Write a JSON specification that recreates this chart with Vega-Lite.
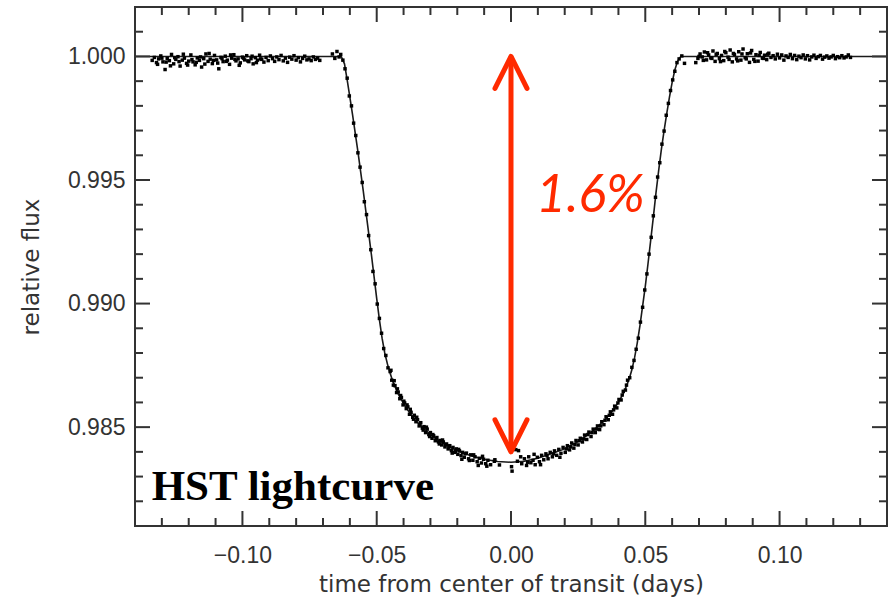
{
  "$schema": "https://vega.github.io/schema/vega-lite/v6.json",
  "width": 752,
  "height": 519,
  "autosize": "none",
  "padding": {"left": 135, "top": 7, "right": 3, "bottom": 74},
  "background": "white",
  "config": {
    "view": {"stroke": "#333333", "strokeWidth": 2},
    "axis": {
      "grid": false,
      "domain": false,
      "ticks": false,
      "labelFont": "Liberation Sans",
      "labelFontSize": 23,
      "labelColor": "#333333",
      "titleFont": "DejaVu Sans",
      "titleFontSize": 23,
      "titleFontWeight": "normal",
      "titleColor": "#333333"
    }
  },
  "datasets": {
    "xticks": [
      {"v": -0.13, "kind": "minor"}, {"v": -0.12, "kind": "minor"}, {"v": -0.11, "kind": "minor"}, {"v": -0.1, "kind": "major"},
      {"v": -0.09, "kind": "minor"}, {"v": -0.08, "kind": "minor"}, {"v": -0.07, "kind": "minor"}, {"v": -0.06, "kind": "minor"},
      {"v": -0.05, "kind": "major"}, {"v": -0.04, "kind": "minor"}, {"v": -0.03, "kind": "minor"}, {"v": -0.02, "kind": "minor"},
      {"v": -0.01, "kind": "minor"}, {"v": 0.0, "kind": "major"}, {"v": 0.01, "kind": "minor"}, {"v": 0.02, "kind": "minor"},
      {"v": 0.03, "kind": "minor"}, {"v": 0.04, "kind": "minor"}, {"v": 0.05, "kind": "major"}, {"v": 0.06, "kind": "minor"},
      {"v": 0.07, "kind": "minor"}, {"v": 0.08, "kind": "minor"}, {"v": 0.09, "kind": "minor"}, {"v": 0.1, "kind": "major"},
      {"v": 0.11, "kind": "minor"}, {"v": 0.12, "kind": "minor"}, {"v": 0.13, "kind": "minor"}
    ],
    "yticks": [
      {"v": 0.982, "kind": "minor"}, {"v": 0.983, "kind": "minor"}, {"v": 0.984, "kind": "minor"}, {"v": 0.985, "kind": "major"},
      {"v": 0.986, "kind": "minor"}, {"v": 0.987, "kind": "minor"}, {"v": 0.988, "kind": "minor"}, {"v": 0.989, "kind": "minor"},
      {"v": 0.99, "kind": "major"}, {"v": 0.991, "kind": "minor"}, {"v": 0.992, "kind": "minor"}, {"v": 0.993, "kind": "minor"},
      {"v": 0.994, "kind": "minor"}, {"v": 0.995, "kind": "major"}, {"v": 0.996, "kind": "minor"}, {"v": 0.997, "kind": "minor"},
      {"v": 0.998, "kind": "minor"}, {"v": 0.999, "kind": "minor"}, {"v": 1.0, "kind": "major"}, {"v": 1.001, "kind": "minor"}
    ],
    "model": [
      {"t": -0.14, "f": 1.0}, {"t": -0.0632, "f": 1.0}, {"t": -0.062, "f": 0.9997}, {"t": -0.061, "f": 0.99905},
      {"t": -0.06, "f": 0.99835}, {"t": -0.059, "f": 0.99765}, {"t": -0.058, "f": 0.9969}, {"t": -0.057, "f": 0.99615},
      {"t": -0.056, "f": 0.99535}, {"t": -0.055, "f": 0.99455}, {"t": -0.054, "f": 0.9937}, {"t": -0.053, "f": 0.99285},
      {"t": -0.052, "f": 0.992}, {"t": -0.051, "f": 0.9911}, {"t": -0.05, "f": 0.9902}, {"t": -0.049, "f": 0.98935},
      {"t": -0.048, "f": 0.9886}, {"t": -0.047, "f": 0.988}, {"t": -0.046, "f": 0.98755}, {"t": -0.045, "f": 0.98718},
      {"t": -0.044, "f": 0.98685}, {"t": -0.042, "f": 0.98635}, {"t": -0.04, "f": 0.98595}, {"t": -0.038, "f": 0.98562},
      {"t": -0.035, "f": 0.9852}, {"t": -0.03, "f": 0.9847}, {"t": -0.025, "f": 0.98432}, {"t": -0.02, "f": 0.98404},
      {"t": -0.015, "f": 0.98384}, {"t": -0.01, "f": 0.9837}, {"t": -0.005, "f": 0.98361}, {"t": 0.0, "f": 0.98358},
      {"t": 0.005, "f": 0.98362}, {"t": 0.01, "f": 0.98374}, {"t": 0.015, "f": 0.98392}, {"t": 0.02, "f": 0.98412},
      {"t": 0.025, "f": 0.98442}, {"t": 0.03, "f": 0.9848}, {"t": 0.035, "f": 0.9853}, {"t": 0.038, "f": 0.98568},
      {"t": 0.04, "f": 0.986}, {"t": 0.042, "f": 0.9864}, {"t": 0.044, "f": 0.98695}, {"t": 0.045, "f": 0.98732},
      {"t": 0.046, "f": 0.9878}, {"t": 0.047, "f": 0.9884}, {"t": 0.048, "f": 0.9891}, {"t": 0.049, "f": 0.9899},
      {"t": 0.05, "f": 0.9907}, {"t": 0.051, "f": 0.9916}, {"t": 0.052, "f": 0.99255}, {"t": 0.053, "f": 0.9935},
      {"t": 0.054, "f": 0.9945}, {"t": 0.055, "f": 0.9954}, {"t": 0.056, "f": 0.99625}, {"t": 0.057, "f": 0.997},
      {"t": 0.058, "f": 0.9977}, {"t": 0.059, "f": 0.99835}, {"t": 0.06, "f": 0.99895}, {"t": 0.061, "f": 0.99945},
      {"t": 0.062, "f": 0.9998}, {"t": 0.0632, "f": 1.0}, {"t": 0.14, "f": 1.0}
    ],
    "obs": [
      {"t": -0.1336, "f": 0.99984}, {"t": -0.1328, "f": 0.99996}, {"t": -0.132, "f": 0.99975}, {"t": -0.1312, "f": 0.9999},
      {"t": -0.1304, "f": 1.00002}, {"t": -0.1296, "f": 0.99978}, {"t": -0.1288, "f": 0.99947}, {"t": -0.128, "f": 0.99992},
      {"t": -0.1272, "f": 0.99983}, {"t": -0.1264, "f": 1.00008}, {"t": -0.1256, "f": 0.9997}, {"t": -0.1248, "f": 0.99988},
      {"t": -0.124, "f": 0.99999}, {"t": -0.1232, "f": 0.99961}, {"t": -0.1224, "f": 0.99985}, {"t": -0.1216, "f": 0.99993},
      {"t": -0.1208, "f": 0.99972}, {"t": -0.12, "f": 0.99981}, {"t": -0.1192, "f": 1.00006}, {"t": -0.1184, "f": 0.99978},
      {"t": -0.1176, "f": 0.99966}, {"t": -0.1168, "f": 0.99994}, {"t": -0.116, "f": 0.99984}, {"t": -0.1152, "f": 0.99957},
      {"t": -0.1144, "f": 0.99991}, {"t": -0.1136, "f": 1.0001}, {"t": -0.1128, "f": 0.9998}, {"t": -0.112, "f": 0.99989},
      {"t": -0.1112, "f": 0.99971}, {"t": -0.1104, "f": 1.00004}, {"t": -0.1096, "f": 0.99986}, {"t": -0.1088, "f": 0.9995},
      {"t": -0.108, "f": 0.99996}, {"t": -0.1072, "f": 0.99979}, {"t": -0.1064, "f": 1.00001}, {"t": -0.1056, "f": 0.99985},
      {"t": -0.1048, "f": 0.99968}, {"t": -0.104, "f": 0.99993}, {"t": -0.1032, "f": 1.00007}, {"t": -0.1024, "f": 0.99982},
      {"t": -0.1016, "f": 0.9999}, {"t": -0.1008, "f": 0.99974}, {"t": -0.1, "f": 0.99997}, {"t": -0.0992, "f": 0.99986},
      {"t": -0.0984, "f": 1.00003}, {"t": -0.0976, "f": 0.99979}, {"t": -0.0968, "f": 0.99991}, {"t": -0.096, "f": 0.9997},
      {"t": -0.0952, "f": 0.99995}, {"t": -0.0944, "f": 0.99985}, {"t": -0.0936, "f": 1.00005}, {"t": -0.0928, "f": 0.99988},
      {"t": -0.092, "f": 0.99977}, {"t": -0.0912, "f": 0.99996}, {"t": -0.0904, "f": 0.99983}, {"t": -0.0896, "f": 1.00002},
      {"t": -0.0888, "f": 0.99991}, {"t": -0.088, "f": 0.9998}, {"t": -0.0872, "f": 0.99998}, {"t": -0.0864, "f": 0.99987},
      {"t": -0.0856, "f": 1.00004}, {"t": -0.0848, "f": 0.99982}, {"t": -0.084, "f": 0.99993}, {"t": -0.0832, "f": 0.99976},
      {"t": -0.0824, "f": 0.99997}, {"t": -0.0816, "f": 0.99989}, {"t": -0.0808, "f": 1.00003}, {"t": -0.08, "f": 0.99985},
      {"t": -0.0792, "f": 0.99995}, {"t": -0.0784, "f": 0.99978}, {"t": -0.0776, "f": 0.99992}, {"t": -0.0768, "f": 1.00001},
      {"t": -0.076, "f": 0.99986}, {"t": -0.0752, "f": 0.9999}, {"t": -0.0744, "f": 0.99983}, {"t": -0.0736, "f": 0.99998},
      {"t": -0.0728, "f": 0.99988}, {"t": -0.072, "f": 0.99993}, {"t": -0.0712, "f": 0.99984},
      {"t": -0.0665, "f": 1.0001}, {"t": -0.0656, "f": 0.99992}, {"t": -0.0648, "f": 1.0002},
      {"t": -0.1316, "f": 0.99968}, {"t": -0.13, "f": 0.99993}, {"t": -0.1284, "f": 0.99977}, {"t": -0.1268, "f": 0.99962},
      {"t": -0.1252, "f": 0.99995}, {"t": -0.1236, "f": 0.99979}, {"t": -0.122, "f": 1.00009}, {"t": -0.1204, "f": 0.99965},
      {"t": -0.1188, "f": 0.99987}, {"t": -0.1172, "f": 0.99976}, {"t": -0.1156, "f": 0.99998}, {"t": -0.114, "f": 0.99969},
      {"t": -0.1124, "f": 1.00012}, {"t": -0.1108, "f": 0.99984}, {"t": -0.1092, "f": 0.99973}, {"t": -0.1076, "f": 0.99991},
      {"t": -0.106, "f": 0.9998}, {"t": -0.1044, "f": 1.00006}, {"t": -0.1028, "f": 0.99988}, {"t": -0.1012, "f": 0.99964},
      {"t": -0.0996, "f": 0.99993}, {"t": -0.098, "f": 0.99982}, {"t": -0.0964, "f": 1.00001}, {"t": -0.0948, "f": 0.99975},
      {"t": -0.0932, "f": 0.9999},
      {"t": -0.064, "f": 0.99998}, {"t": -0.0634, "f": 1.00008}, {"t": -0.0626, "f": 0.99985}, {"t": -0.0618, "f": 0.9995},
      {"t": -0.061, "f": 0.99912}, {"t": -0.0602, "f": 0.9984}, {"t": -0.0594, "f": 0.998}, {"t": -0.0586, "f": 0.9973},
      {"t": -0.0578, "f": 0.9968}, {"t": -0.057, "f": 0.9961}, {"t": -0.0562, "f": 0.99552}, {"t": -0.0554, "f": 0.9949},
      {"t": -0.0546, "f": 0.99412}, {"t": -0.0538, "f": 0.9936}, {"t": -0.053, "f": 0.99275}, {"t": -0.0522, "f": 0.99218},
      {"t": -0.0514, "f": 0.9913}, {"t": -0.0506, "f": 0.9908}, {"t": -0.0498, "f": 0.98998}, {"t": -0.049, "f": 0.9894},
      {"t": -0.0482, "f": 0.9888}, {"t": -0.0474, "f": 0.98818}, {"t": -0.0466, "f": 0.9879}, {"t": -0.0458, "f": 0.9874},
      {"t": -0.045, "f": 0.98725}, {"t": -0.0444, "f": 0.9869}, {"t": -0.0438, "f": 0.9867}, {"t": -0.0432, "f": 0.98668},
      {"t": -0.0426, "f": 0.9864}, {"t": -0.042, "f": 0.98642}, {"t": -0.0414, "f": 0.98615}, {"t": -0.0408, "f": 0.9862},
      {"t": -0.0402, "f": 0.9859}, {"t": -0.0396, "f": 0.98598}, {"t": -0.039, "f": 0.98575}, {"t": -0.0384, "f": 0.98582},
      {"t": -0.0378, "f": 0.98552}, {"t": -0.0372, "f": 0.9856}, {"t": -0.0366, "f": 0.9854}, {"t": -0.036, "f": 0.98548},
      {"t": -0.0354, "f": 0.98522}, {"t": -0.0348, "f": 0.9853}, {"t": -0.0342, "f": 0.98505}, {"t": -0.0336, "f": 0.98518},
      {"t": -0.033, "f": 0.98496}, {"t": -0.0324, "f": 0.98502}, {"t": -0.0318, "f": 0.98478}, {"t": -0.0312, "f": 0.98492},
      {"t": -0.0306, "f": 0.9847}, {"t": -0.03, "f": 0.98478}, {"t": -0.0294, "f": 0.98455}, {"t": -0.0288, "f": 0.98465},
      {"t": -0.0282, "f": 0.98445}, {"t": -0.0276, "f": 0.98458}, {"t": -0.027, "f": 0.9844}, {"t": -0.0264, "f": 0.98446},
      {"t": -0.0258, "f": 0.98428}, {"t": -0.0252, "f": 0.9844}, {"t": -0.0246, "f": 0.9842}, {"t": -0.024, "f": 0.98432},
      {"t": -0.0234, "f": 0.98412}, {"t": -0.0228, "f": 0.98425}, {"t": -0.0222, "f": 0.98405}, {"t": -0.0216, "f": 0.98418},
      {"t": -0.021, "f": 0.98398}, {"t": -0.0204, "f": 0.98412}, {"t": -0.0198, "f": 0.9839}, {"t": -0.0192, "f": 0.98404},
      {"t": -0.0186, "f": 0.98385}, {"t": -0.018, "f": 0.98398}, {"t": -0.0174, "f": 0.98378}, {"t": -0.0166, "f": 0.98395},
      {"t": -0.0158, "f": 0.98372}, {"t": -0.015, "f": 0.98388}, {"t": -0.0142, "f": 0.98366}, {"t": -0.0134, "f": 0.9838},
      {"t": -0.0126, "f": 0.9836}, {"t": -0.0118, "f": 0.98374}, {"t": -0.011, "f": 0.98355}, {"t": -0.0102, "f": 0.9837},
      {"t": -0.0094, "f": 0.98352}, {"t": -0.0086, "f": 0.98366}, {"t": -0.0076, "f": 0.98348}, {"t": -0.0062, "f": 0.98362},
      {"t": -0.0447, "f": 0.9873}, {"t": -0.0435, "f": 0.98688}, {"t": -0.0423, "f": 0.98655}, {"t": -0.0411, "f": 0.98628},
      {"t": -0.0399, "f": 0.98605}, {"t": -0.0387, "f": 0.9859}, {"t": -0.0375, "f": 0.98572}, {"t": -0.0363, "f": 0.98532},
      {"t": -0.0351, "f": 0.9854}, {"t": -0.0339, "f": 0.98512}, {"t": -0.0327, "f": 0.98488}, {"t": -0.0315, "f": 0.985},
      {"t": -0.0303, "f": 0.98462}, {"t": -0.0291, "f": 0.9847}, {"t": -0.0279, "f": 0.98452}, {"t": -0.0267, "f": 0.98432},
      {"t": -0.0255, "f": 0.98448}, {"t": -0.0243, "f": 0.98428}, {"t": -0.0231, "f": 0.9842}, {"t": -0.0219, "f": 0.98395},
      {"t": -0.0207, "f": 0.98402}, {"t": -0.0195, "f": 0.9841}, {"t": -0.0183, "f": 0.9837}, {"t": -0.0171, "f": 0.98392},
      {"t": -0.0155, "f": 0.98365}, {"t": -0.0139, "f": 0.98388}, {"t": -0.0122, "f": 0.98345}, {"t": -0.0106, "f": 0.98382},
      {"t": -0.009, "f": 0.98342},
      {"t": -0.006, "f": 0.98368}, {"t": -0.0043, "f": 0.98347}, {"t": 0.0002, "f": 0.9834}, {"t": 0.0004, "f": 0.98322},
      {"t": 0.0018, "f": 0.98409}, {"t": 0.0028, "f": 0.98405}, {"t": 0.004, "f": 0.98352}, {"t": 0.005, "f": 0.98372},
      {"t": 0.0058, "f": 0.98345}, {"t": 0.0066, "f": 0.9838}, {"t": 0.0074, "f": 0.98356}, {"t": 0.0082, "f": 0.98366},
      {"t": 0.009, "f": 0.98348}, {"t": 0.0098, "f": 0.98378}, {"t": 0.0106, "f": 0.9836}, {"t": 0.0114, "f": 0.98386},
      {"t": 0.0122, "f": 0.98368}, {"t": 0.013, "f": 0.98392}, {"t": 0.0138, "f": 0.98372}, {"t": 0.0146, "f": 0.98398},
      {"t": 0.0154, "f": 0.9838}, {"t": 0.0162, "f": 0.98404}, {"t": 0.017, "f": 0.98386}, {"t": 0.0178, "f": 0.9841},
      {"t": 0.0186, "f": 0.98394}, {"t": 0.0194, "f": 0.98418}, {"t": 0.0202, "f": 0.98398}, {"t": 0.021, "f": 0.98425},
      {"t": 0.0218, "f": 0.98408}, {"t": 0.0226, "f": 0.98436}, {"t": 0.0234, "f": 0.98415}, {"t": 0.0242, "f": 0.98446},
      {"t": 0.025, "f": 0.98428}, {"t": 0.0258, "f": 0.98455}, {"t": 0.0266, "f": 0.9844}, {"t": 0.0274, "f": 0.98468},
      {"t": 0.0282, "f": 0.9845}, {"t": 0.029, "f": 0.9848}, {"t": 0.0298, "f": 0.98462}, {"t": 0.0306, "f": 0.98492},
      {"t": 0.0314, "f": 0.98478}, {"t": 0.0322, "f": 0.98505}, {"t": 0.033, "f": 0.9849}, {"t": 0.0338, "f": 0.98522},
      {"t": 0.0346, "f": 0.9851}, {"t": 0.0354, "f": 0.98542}, {"t": 0.0362, "f": 0.9853}, {"t": 0.037, "f": 0.98562},
      {"t": 0.0378, "f": 0.98552}, {"t": 0.0386, "f": 0.98585}, {"t": 0.0394, "f": 0.98578}, {"t": 0.0402, "f": 0.98612},
      {"t": 0.041, "f": 0.9861}, {"t": 0.0418, "f": 0.98645}, {"t": 0.0426, "f": 0.9865}, {"t": 0.0434, "f": 0.9869},
      {"t": 0.0442, "f": 0.987}, {"t": 0.045, "f": 0.98742}, {"t": 0.0458, "f": 0.9877}, {"t": 0.0466, "f": 0.98815},
      {"t": 0.0474, "f": 0.9886}, {"t": 0.0482, "f": 0.98925}, {"t": 0.049, "f": 0.98985}, {"t": 0.0498, "f": 0.99055},
      {"t": 0.0506, "f": 0.9912}, {"t": 0.0514, "f": 0.992}, {"t": 0.0522, "f": 0.99268}, {"t": 0.053, "f": 0.99355},
      {"t": 0.0538, "f": 0.9943}, {"t": 0.0546, "f": 0.99512}, {"t": 0.0554, "f": 0.9957}, {"t": 0.0562, "f": 0.99645},
      {"t": 0.057, "f": 0.99698}, {"t": 0.0578, "f": 0.99762}, {"t": 0.0586, "f": 0.9981}, {"t": 0.0594, "f": 0.99862},
      {"t": 0.0602, "f": 0.99905}, {"t": 0.061, "f": 0.9994}, {"t": 0.0618, "f": 0.99975}, {"t": 0.0626, "f": 0.9999},
      {"t": 0.0636, "f": 1.00002}, {"t": 0.0646, "f": 0.99972},
      {"t": 0.0024, "f": 0.98362}, {"t": 0.0036, "f": 0.9838}, {"t": 0.0062, "f": 0.98358}, {"t": 0.0086, "f": 0.9839},
      {"t": 0.011, "f": 0.98348}, {"t": 0.0134, "f": 0.98385}, {"t": 0.0158, "f": 0.98392}, {"t": 0.0182, "f": 0.98378},
      {"t": 0.0206, "f": 0.98412}, {"t": 0.0222, "f": 0.9842}, {"t": 0.0238, "f": 0.9843}, {"t": 0.0254, "f": 0.98445},
      {"t": 0.027, "f": 0.98452}, {"t": 0.0286, "f": 0.9847}, {"t": 0.0302, "f": 0.98478}, {"t": 0.0318, "f": 0.98492},
      {"t": 0.0334, "f": 0.98505}, {"t": 0.035, "f": 0.98528}, {"t": 0.0366, "f": 0.98548}, {"t": 0.0382, "f": 0.9857},
      {"t": 0.0398, "f": 0.98598}, {"t": 0.0414, "f": 0.9863}, {"t": 0.043, "f": 0.9867},
      {"t": 0.0688, "f": 0.99975}, {"t": 0.0696, "f": 0.99992}, {"t": 0.0704, "f": 1.0001}, {"t": 0.0712, "f": 0.99998},
      {"t": 0.072, "f": 1.00018}, {"t": 0.0728, "f": 0.99986}, {"t": 0.0736, "f": 1.00006}, {"t": 0.0744, "f": 0.99994},
      {"t": 0.0752, "f": 1.00022}, {"t": 0.076, "f": 0.9998}, {"t": 0.0768, "f": 1.00012}, {"t": 0.0776, "f": 0.99991},
      {"t": 0.0784, "f": 1.00004}, {"t": 0.0792, "f": 0.99983}, {"t": 0.08, "f": 1.00015}, {"t": 0.0808, "f": 0.99997},
      {"t": 0.0816, "f": 1.00026}, {"t": 0.0824, "f": 0.99978}, {"t": 0.0832, "f": 1.00008}, {"t": 0.084, "f": 0.9999},
      {"t": 0.0848, "f": 1.00019}, {"t": 0.0856, "f": 0.99985}, {"t": 0.0864, "f": 1.0003}, {"t": 0.0872, "f": 0.99995},
      {"t": 0.088, "f": 1.00011}, {"t": 0.0888, "f": 0.99976}, {"t": 0.0896, "f": 1.00024}, {"t": 0.0904, "f": 0.99988},
      {"t": 0.0912, "f": 1.00007}, {"t": 0.092, "f": 0.99981}, {"t": 0.0928, "f": 1.00016}, {"t": 0.0936, "f": 0.99993},
      {"t": 0.0944, "f": 1.00005}, {"t": 0.0952, "f": 0.99987}, {"t": 0.096, "f": 1.00013}, {"t": 0.0968, "f": 0.99996},
      {"t": 0.0976, "f": 1.00003}, {"t": 0.0984, "f": 0.9999}, {"t": 0.0992, "f": 1.00009}, {"t": 0.1, "f": 0.99994},
      {"t": 0.1008, "f": 1.00006}, {"t": 0.1016, "f": 0.99985}, {"t": 0.1024, "f": 1.00002}, {"t": 0.1032, "f": 0.99996},
      {"t": 0.104, "f": 1.00008}, {"t": 0.1048, "f": 0.99991}, {"t": 0.1056, "f": 1.00004}, {"t": 0.1064, "f": 0.99987},
      {"t": 0.1072, "f": 1.00001}, {"t": 0.108, "f": 0.99995}, {"t": 0.1088, "f": 1.00006}, {"t": 0.1096, "f": 0.9999},
      {"t": 0.1104, "f": 1.00003}, {"t": 0.1112, "f": 0.99986}, {"t": 0.112, "f": 0.99998}, {"t": 0.1128, "f": 1.00005},
      {"t": 0.1136, "f": 0.99992}, {"t": 0.1144, "f": 0.99999}, {"t": 0.1152, "f": 1.00004}, {"t": 0.116, "f": 0.99989},
      {"t": 0.1168, "f": 0.99997}, {"t": 0.1176, "f": 1.00002}, {"t": 0.1184, "f": 0.99993}, {"t": 0.1192, "f": 0.99998},
      {"t": 0.12, "f": 1.00004}, {"t": 0.1208, "f": 0.99991}, {"t": 0.1216, "f": 0.99999}, {"t": 0.1224, "f": 0.99995},
      {"t": 0.1232, "f": 1.00003}, {"t": 0.124, "f": 0.99994}, {"t": 0.1248, "f": 0.99998}, {"t": 0.1256, "f": 1.00006},
      {"t": 0.1264, "f": 0.99996},
      {"t": 0.07, "f": 1.0}, {"t": 0.0716, "f": 0.99984}, {"t": 0.0732, "f": 1.00015}, {"t": 0.0748, "f": 0.99992},
      {"t": 0.0764, "f": 1.00008}, {"t": 0.078, "f": 0.99979}, {"t": 0.0796, "f": 1.0002}, {"t": 0.0812, "f": 0.99988},
      {"t": 0.0828, "f": 1.00012}, {"t": 0.0844, "f": 0.99982}, {"t": 0.086, "f": 1.0001}, {"t": 0.0876, "f": 0.9999},
      {"t": 0.0892, "f": 1.00014}, {"t": 0.0908, "f": 0.9998}, {"t": 0.0924, "f": 1.00004}, {"t": 0.094, "f": 0.99992},
      {"t": 0.0956, "f": 1.00009}
    ],
    "depth": [{"t": 0.0, "low": 0.984, "high": 1.0}],
    "heads": [{"t": 0.0, "f": 1.0, "end": "top"}, {"t": 0.0, "f": 0.984, "end": "bottom"}],
    "depthLabel": [{"t": 0.0093, "f": 0.99372, "text": "1.6%"}],
    "caption": [{"t": -0.1338, "f": 0.98206, "text": "HST lightcurve"}]
  },
  "layer": [
    {
      "data": {"name": "model"},
      "mark": {"type": "line", "color": "#1a1a1a", "strokeWidth": 1.6},
      "encoding": {
        "x": {
          "field": "t", "type": "quantitative",
          "scale": {"domain": [-0.14, 0.14], "nice": false, "zero": false},
          "axis": {"values": [-0.1, -0.05, 0, 0.05, 0.1], "format": ".2f", "labelPadding": 18, "title": "time from center of transit (days)", "titlePadding": 6}
        },
        "y": {
          "field": "f", "type": "quantitative",
          "scale": {"domain": [0.981, 1.002], "nice": false, "zero": false},
          "axis": {"values": [0.985, 0.99, 0.995, 1.0], "format": ".3f", "labelPadding": 10, "title": "relative flux", "titlePadding": 24}
        }
      }
    },
    {
      "data": {"name": "xticks"},
      "transform": [{"filter": "datum.kind === 'major'"}],
      "mark": {"type": "rule", "color": "#333333", "strokeWidth": 2},
      "encoding": {
        "x": {"field": "v", "type": "quantitative"},
        "y": {"datum": 0.981, "type": "quantitative"},
        "y2": {"datum": 0.981607}
      }
    },
    {
      "data": {"name": "xticks"},
      "transform": [{"filter": "datum.kind === 'minor'"}],
      "mark": {"type": "rule", "color": "#333333", "strokeWidth": 2},
      "encoding": {
        "x": {"field": "v", "type": "quantitative"},
        "y": {"datum": 0.981, "type": "quantitative"},
        "y2": {"datum": 0.981324}
      }
    },
    {
      "data": {"name": "xticks"},
      "transform": [{"filter": "datum.kind === 'major'"}],
      "mark": {"type": "rule", "color": "#333333", "strokeWidth": 2},
      "encoding": {
        "x": {"field": "v", "type": "quantitative"},
        "y": {"datum": 1.002, "type": "quantitative"},
        "y2": {"datum": 1.001393}
      }
    },
    {
      "data": {"name": "xticks"},
      "transform": [{"filter": "datum.kind === 'minor'"}],
      "mark": {"type": "rule", "color": "#333333", "strokeWidth": 2},
      "encoding": {
        "x": {"field": "v", "type": "quantitative"},
        "y": {"datum": 1.002, "type": "quantitative"},
        "y2": {"datum": 1.001676}
      }
    },
    {
      "data": {"name": "yticks"},
      "transform": [{"filter": "datum.kind === 'major'"}],
      "mark": {"type": "rule", "color": "#333333", "strokeWidth": 2},
      "encoding": {
        "y": {"field": "v", "type": "quantitative"},
        "x": {"datum": -0.14, "type": "quantitative"},
        "x2": {"datum": -0.134415}
      }
    },
    {
      "data": {"name": "yticks"},
      "transform": [{"filter": "datum.kind === 'minor'"}],
      "mark": {"type": "rule", "color": "#333333", "strokeWidth": 2},
      "encoding": {
        "y": {"field": "v", "type": "quantitative"},
        "x": {"datum": -0.14, "type": "quantitative"},
        "x2": {"datum": -0.137021}
      }
    },
    {
      "data": {"name": "yticks"},
      "transform": [{"filter": "datum.kind === 'major'"}],
      "mark": {"type": "rule", "color": "#333333", "strokeWidth": 2},
      "encoding": {
        "y": {"field": "v", "type": "quantitative"},
        "x": {"datum": 0.14, "type": "quantitative"},
        "x2": {"datum": 0.134415}
      }
    },
    {
      "data": {"name": "yticks"},
      "transform": [{"filter": "datum.kind === 'minor'"}],
      "mark": {"type": "rule", "color": "#333333", "strokeWidth": 2},
      "encoding": {
        "y": {"field": "v", "type": "quantitative"},
        "x": {"datum": 0.14, "type": "quantitative"},
        "x2": {"datum": 0.137021}
      }
    },
    {
      "data": {"name": "obs"},
      "mark": {"type": "square", "size": 12, "color": "#000000", "opacity": 1},
      "encoding": {
        "x": {"field": "t", "type": "quantitative"},
        "y": {"field": "f", "type": "quantitative"}
      }
    },
    {
      "data": {"name": "depth"},
      "mark": {"type": "rule", "color": "#ff2a00", "strokeWidth": 5},
      "encoding": {
        "x": {"field": "t", "type": "quantitative"},
        "y": {"field": "low", "type": "quantitative"},
        "y2": {"field": "high"}
      }
    },
    {
      "data": {"name": "heads"},
      "mark": {"type": "point", "filled": false, "size": 1024, "stroke": "#ff2a00", "strokeWidth": 5, "strokeCap": "round", "strokeJoin": "round", "opacity": 1},
      "encoding": {
        "x": {"field": "t", "type": "quantitative"},
        "y": {"field": "f", "type": "quantitative"},
        "shape": {"field": "end", "type": "nominal", "scale": {"domain": ["top", "bottom"], "range": ["M -1 2 L 0 0 L 1 2", "M -1 -2 L 0 0 L 1 -2"]}, "legend": null}
      }
    },
    {
      "data": {"name": "depthLabel"},
      "mark": {"type": "text", "font": "Lato", "fontStyle": "italic", "fontSize": 52, "color": "#ff2a00", "align": "left", "baseline": "alphabetic"},
      "encoding": {
        "x": {"field": "t", "type": "quantitative"},
        "y": {"field": "f", "type": "quantitative"},
        "text": {"field": "text"}
      }
    },
    {
      "data": {"name": "caption"},
      "mark": {"type": "text", "font": "Liberation Serif", "fontWeight": "bold", "fontSize": 43, "color": "#000000", "align": "left", "baseline": "alphabetic"},
      "encoding": {
        "x": {"field": "t", "type": "quantitative"},
        "y": {"field": "f", "type": "quantitative"},
        "text": {"field": "text"}
      }
    }
  ]
}
